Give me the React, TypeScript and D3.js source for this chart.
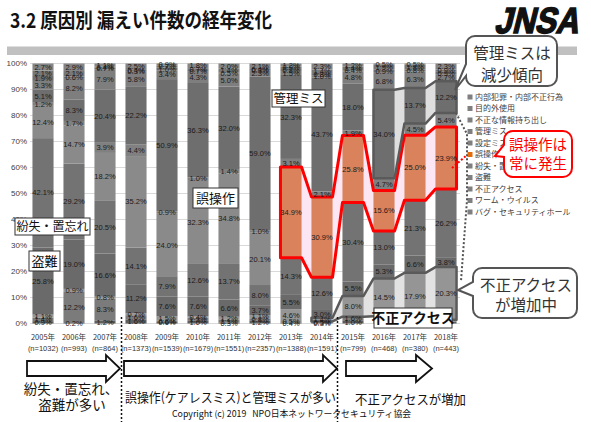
import * as d3 from "d3";

// Years and sample sizes
const years = ["2005", "2006", "2007", "2008", "2009", "2010", "2011", "2012", "2013", "2014", "2015", "2016", "2017", "2018"];
const counts = [1032, 993, 864, 1373, 1539, 1679, 1551, 2357, 1388, 1591, 799, 468, 380, 443];

// Causes, bottom of the stack first
const categories = [
  "バグ・セキュリティホール",
  "ワーム・ウイルス",
  "不正アクセス",
  "盗難",
  "紛失・置忘れ",
  "誤操作",
  "設定ミス",
  "管理ミス",
  "不正な情報持ち出し",
  "目的外使用",
  "内部犯罪・内部不正行為",
  "その他",
];

// Share per year (%)
const bugHole = [0.9, 0.2, 1.2, 1.6, 0.6, 1.0, 0.3, 1.2, 0.4, 0.3, 1.0, 1.3, 0.8, 0.7];
const wormVirus = [1.4, 12.2, 8.3, 1.6, 0.6, 1.3, 1.1, 0.8, 0.5, 0.5, 1.6, 1.5, 0.8, 0.7];
const illegalAccess = [1.1, 0.9, 0.8, 0.7, 1.5, 0.4, 1.2, 1.1, 4.6, 1.4, 8.0, 14.5, 17.9, 20.3];
const theft = [25.8, 19.0, 16.6, 11.2, 7.6, 7.6, 6.6, 3.7, 5.5, 3.0, 5.5, 5.3, 6.6, 3.8];
const lost = [42.1, 29.2, 20.5, 14.1, 7.9, 12.6, 13.7, 8.0, 14.3, 12.6, 30.4, 13.0, 21.3, 26.2];
const misoperation = [12.4, 14.7, 18.2, 35.2, 24.0, 32.3, 34.8, 20.1, 34.9, 30.9, 25.8, 15.6, 25.0, 23.9];
const configError = [1.2, 1.7, 3.9, 4.4, 0.9, 1.0, 1.4, 1.0, 3.1, 2.1, 1.9, 4.7, 4.5, 5.4];
const mismanagement = [5.1, 8.3, 20.4, 22.2, 50.9, 36.3, 32.0, 59.0, 32.3, 43.7, 18.0, 34.0, 13.7, 12.2];
const takeout = [3.3, 8.2, 7.9, 5.8, 3.4, 4.3, 5.0, 2.3, 1.5, 1.0, 4.8, 6.8, 6.3, 2.7];
const misuse = [1.9, 0.6, 0.7, 0.3, 1.0, 0.7, 0.5, 0.3, 0.8, 0.8, 0.4, 0.9, 0.8, 0.9];
const insider = [2.1, 2.1, 0.4, 0.4, 0.7, 0.7, 1.4, 0.4, 0.9, 1.4, 1.4, 1.9, 1.8, 0.9];
const other = [2.7, 2.9, 1.1, 2.5, 0.9, 1.8, 2.0, 2.1, 1.2, 2.3, 1.2, 0.5, 0.5, 2.3];

const seriesValues = [bugHole, wormVirus, illegalAccess, theft, lost, misoperation, configError, mismanagement, takeout, misuse, insider, other];

const legendItems = [
  "内部犯罪・内部不正行為",
  "目的外使用",
  "不正な情報持ち出し",
  "管理ミス",
  "設定ミス",
  "誤操作",
  "紛失・置忘れ",
  "盗難",
  "不正アクセス",
  "ワーム・ウイルス",
  "バグ・セキュリティホール",
];

const grays = ["#5f5f5f", "#7b7b7b", "#959595", "#6a6a6a", "#737373", "#8a8a8a", "#808080", "#6e6e6e", "#7e7e7e", "#707070", "#787878", "#858585"];
const ORANGE = "#d9825c";
const JP = "'Noto Sans CJK JP', 'Noto Sans', sans-serif";

const W = 591;
const H = 422;

const x = d3.scaleBand<string>().domain(years).range([27.5, 461.5]).paddingInner(0.32).paddingOuter(0.16);
const y = d3.scaleLinear().domain([0, 100]).range([323.5, 63.5]);

const rows = years.map((yr, i) => {
  const row: Record<string, number | string> = { year: yr };
  categories.forEach((c, k) => (row[c] = seriesValues[k][i]));
  return row;
});
const stacked = d3.stack<Record<string, number | string>>().keys(categories)(rows as any);

// polygon around one layer over a run of years (bar tops, then bar bottoms back)
const bandPoints = (layer: number, from: number, to: number) => {
  const s = stacked[layer];
  const top: [number, number][] = [];
  const bot: [number, number][] = [];
  for (let i = from; i <= to; i++) {
    const x0 = x(years[i])!;
    const x1 = x0 + x.bandwidth();
    top.push([x0, y(s[i][1])], [x1, y(s[i][1])]);
    bot.unshift([x1, y(s[i][0])], [x0, y(s[i][0])]);
  }
  return [...top, ...bot].map(p => p.join(",")).join(" ");
};

const bubble = (x0: number, y0: number, x1: number, y1: number, r: number, tb0: number, tb1: number, tx: number, ty: number) =>
  `M${x0 + r},${y0} H${x1 - r} A${r},${r} 0 0 1 ${x1},${y0 + r} V${y1 - r} A${r},${r} 0 0 1 ${x1 - r},${y1} H${x0 + r} A${r},${r} 0 0 1 ${x0},${y1 - r} V${tb1} L${tx},${ty} L${x0},${tb0} V${y0 + r} A${r},${r} 0 0 1 ${x0 + r},${y0} Z`;

const arrow = (x0: number, xh: number, tip: number) =>
  `M${x0},361 H${xh} V355 L${tip},368.5 L${xh},382 V376 H${x0} Z`;

const bands = [
  { layer: 5, from: 8, to: 13, fill: "#fde6f4", stroke: "#ff0000", width: 3 },
  { layer: 7, from: 11, to: 13, fill: "#dedede", stroke: "#5a5a5a", width: 2.5 },
  { layer: 2, from: 9, to: 13, fill: "#e2e2e2", stroke: "#5a5a5a", width: 2.5 },
];

// the "不正アクセス" tag hides the labels below it
const tagBox = { x0: 374, y0: 308, w: 78, h: 20 };
const hiddenByTag = (cx: number, cy: number) =>
  cx > tagBox.x0 && cx < tagBox.x0 + tagBox.w && cy > tagBox.y0 - 2 && cy < tagBox.y0 + tagBox.h;

const Label = ({ x0, y0, w, h, text, size, bold }: { x0: number; y0: number; w: number; h: number; text: string; size: number; bold?: boolean }) => (
  <g>
    <rect x={x0} y={y0} width={w} height={h} fill="white" stroke="#333" strokeWidth={1} />
    <text x={x0 + w / 2} y={y0 + h / 2} dy="0.36em" textAnchor="middle" fontSize={size} fontWeight={bold ? 700 : 400} fill="#111">
      {text}
    </text>
  </g>
);

export default function App() {
  return (
    <svg width={W} height={H} style={{ position: "absolute", left: 0, top: 0, background: "white" }} fontFamily={JP}>
      {/* title */}
      <text x={10} y={28} fontSize={20} fontWeight={700} textLength={262} lengthAdjust="spacingAndGlyphs" fill="#111">
        3.2 原因別 漏えい件数の経年変化
      </text>
      <rect x={7} y={46.5} width={570} height={8.5} fill="#c0c0c0" />
      <text
        transform="translate(494,33) skewX(-14) scale(1,1.3)"
        fontFamily="'Liberation Sans', Arial, sans-serif"
        fontSize={28}
        fontWeight={700}
        textLength={84}
        lengthAdjust="spacingAndGlyphs"
        fill="#111"
        stroke="#111"
        strokeWidth={1.2}
      >
        JNSA
      </text>

      {/* grid and y axis */}
      {d3.range(0, 101, 10).map(t => (
        <g key={t}>
          <line x1={30} x2={460} y1={y(t)} y2={y(t)} stroke="#d9d9d9" />
          <text x={27} y={y(t)} dy="0.35em" textAnchor="end" fontSize={8} fill="#404040" fontFamily="'Liberation Sans', sans-serif">
            {t}%
          </text>
        </g>
      ))}

      {/* band fills between bars */}
      {bands.map((b, i) => (
        <polygon key={i} points={bandPoints(b.layer, b.from, b.to)} fill={b.fill} />
      ))}

      {/* stacked bars */}
      {stacked.map((s, k) =>
        s.map((d, i) => (
          <rect
            key={`${k}-${i}`}
            x={x(years[i])}
            y={y(d[1])}
            width={x.bandwidth()}
            height={y(d[0]) - y(d[1])}
            fill={k === 5 && i >= 8 ? ORANGE : grays[k]}
          />
        ))
      )}

      {/* band outlines */}
      {bands.map((b, i) => (
        <polygon key={i} points={bandPoints(b.layer, b.from, b.to)} fill="none" stroke={b.stroke} strokeWidth={b.width} strokeLinejoin="round" />
      ))}

      {/* segment labels */}
      {stacked.map((s, k) =>
        s.map((d, i) => {
          const cx = x(years[i])! + x.bandwidth() / 2;
          const cy = y((d[0] + d[1]) / 2);
          if (hiddenByTag(cx, cy)) return null;
          return (
            <text
              key={`l${k}-${i}`}
              x={cx}
              y={cy}
              dy="0.35em"
              textAnchor="middle"
              fontSize={7.5}
              fill="#1a1a1a"
              fontFamily="'Liberation Sans', sans-serif"
            >
              {seriesValues[k][i].toFixed(1)}%
            </text>
          );
        })
      )}

      {/* year / n labels */}
      {years.map((yr, i) => (
        <g key={yr} fontSize={7.5} fill="#333" textAnchor="middle">
          <text x={x(yr)! + x.bandwidth() / 2} y={339.5}>{yr}年</text>
          <text x={x(yr)! + x.bandwidth() / 2} y={351} fontFamily="'Liberation Sans', sans-serif">(n={counts[i]})</text>
        </g>
      ))}

      {/* category tags on the bars */}
      <Label x0={15} y0={218} w={75} h={17} text="紛失・置忘れ" size={12} />
      <Label x0={29} y0={251} w={31} h={20} text="盗難" size={13} />
      <Label x0={193} y0={188} w={45} h={20} text="誤操作" size={13} />
      <Label x0={272} y0={90} w={53} h={17} text="管理ミス" size={12.5} />
      <Label x0={tagBox.x0} y0={tagBox.y0} w={tagBox.w} h={tagBox.h} text="不正アクセス" size={14} bold />

      {/* legend */}
      {legendItems.map((name, i) => {
        const ly = 97 + i * 11.5;
        return (
          <g key={name}>
            <rect x={467.5} y={ly - 2.5} width={5} height={5} fill={name === "誤操作" ? "#e46c0a" : "#7f7f7f"} />
            <text x={475} y={ly} dy="0.35em" fontSize={8} fill="#404040">
              {name}
            </text>
          </g>
        );
      })}

      {/* connector dots */}
      <path d="M456,113 L467,134 L467,200 L461,281" fill="none" stroke="#555" strokeWidth={2} strokeDasharray="2,2" />
      <path d="M452,168 L467,155" fill="none" stroke="#ff0000" strokeWidth={2} strokeDasharray="2,2" />

      {/* callouts */}
      <path d={bubble(466, 36, 557, 86, 9, 64, 76, 455, 90)} fill="white" stroke="#555" strokeWidth={2} />
      <text x={512} y={53} dy="0.36em" textAnchor="middle" fontSize={15.5} fill="#333">管理ミスは</text>
      <text x={512} y={75} dy="0.36em" textAnchor="middle" fontSize={15.5} fill="#333">減少傾向</text>

      <path d={bubble(504, 131, 572, 177, 9, 145, 157, 495, 156)} fill="white" stroke="#ff0000" strokeWidth={2} />
      <text x={538} y={145} dy="0.36em" textAnchor="middle" fontSize={14.5} fill="#ff0000">誤操作は</text>
      <text x={538} y={164} dy="0.36em" textAnchor="middle" fontSize={14.5} fill="#ff0000">常に発生</text>

      <path d={bubble(473, 268, 577, 318, 9, 282, 296, 458, 290)} fill="white" stroke="#555" strokeWidth={2} />
      <text x={526} y={285} dy="0.36em" textAnchor="middle" fontSize={15.5} fill="#333">不正アクセス</text>
      <text x={526} y={305} dy="0.36em" textAnchor="middle" fontSize={15.5} fill="#333">が増加中</text>

      {/* era dividers */}
      <line x1={121.5} x2={121.5} y1={317} y2={422} stroke="#111" strokeWidth={1.5} strokeDasharray="2,2" />
      <line x1={337.5} x2={337.5} y1={317} y2={422} stroke="#111" strokeWidth={1.5} strokeDasharray="2,2" />

      {/* era arrows */}
      <path d={arrow(27, 106, 120)} fill="white" stroke="#111" strokeWidth={1.8} />
      <path d={arrow(124, 323, 337)} fill="white" stroke="#111" strokeWidth={1.8} />
      <path d={arrow(346, 416, 432)} fill="white" stroke="#111" strokeWidth={1.8} />

      <text x={71} y={394} textAnchor="middle" fontSize={13.5} fill="#111">紛失・置忘れ、</text>
      <text x={72} y={410} textAnchor="middle" fontSize={13.5} fill="#111">盗難が多い</text>
      <text x={125} y={402} fontSize={13} textLength={211} lengthAdjust="spacingAndGlyphs" fill="#111">誤操作(ケアレスミス)と管理ミスが多い</text>
      <text x={355} y={404} fontSize={13} textLength={111} lengthAdjust="spacingAndGlyphs" fill="#111">不正アクセスが増加</text>
      <text x={172} y={417} fontSize={9} textLength={239} lengthAdjust="spacingAndGlyphs" fill="#111" xmlSpace="preserve">
        Copyright (c) 2019   NPO日本ネットワークセキュリティ協会
      </text>
    </svg>
  );
}
